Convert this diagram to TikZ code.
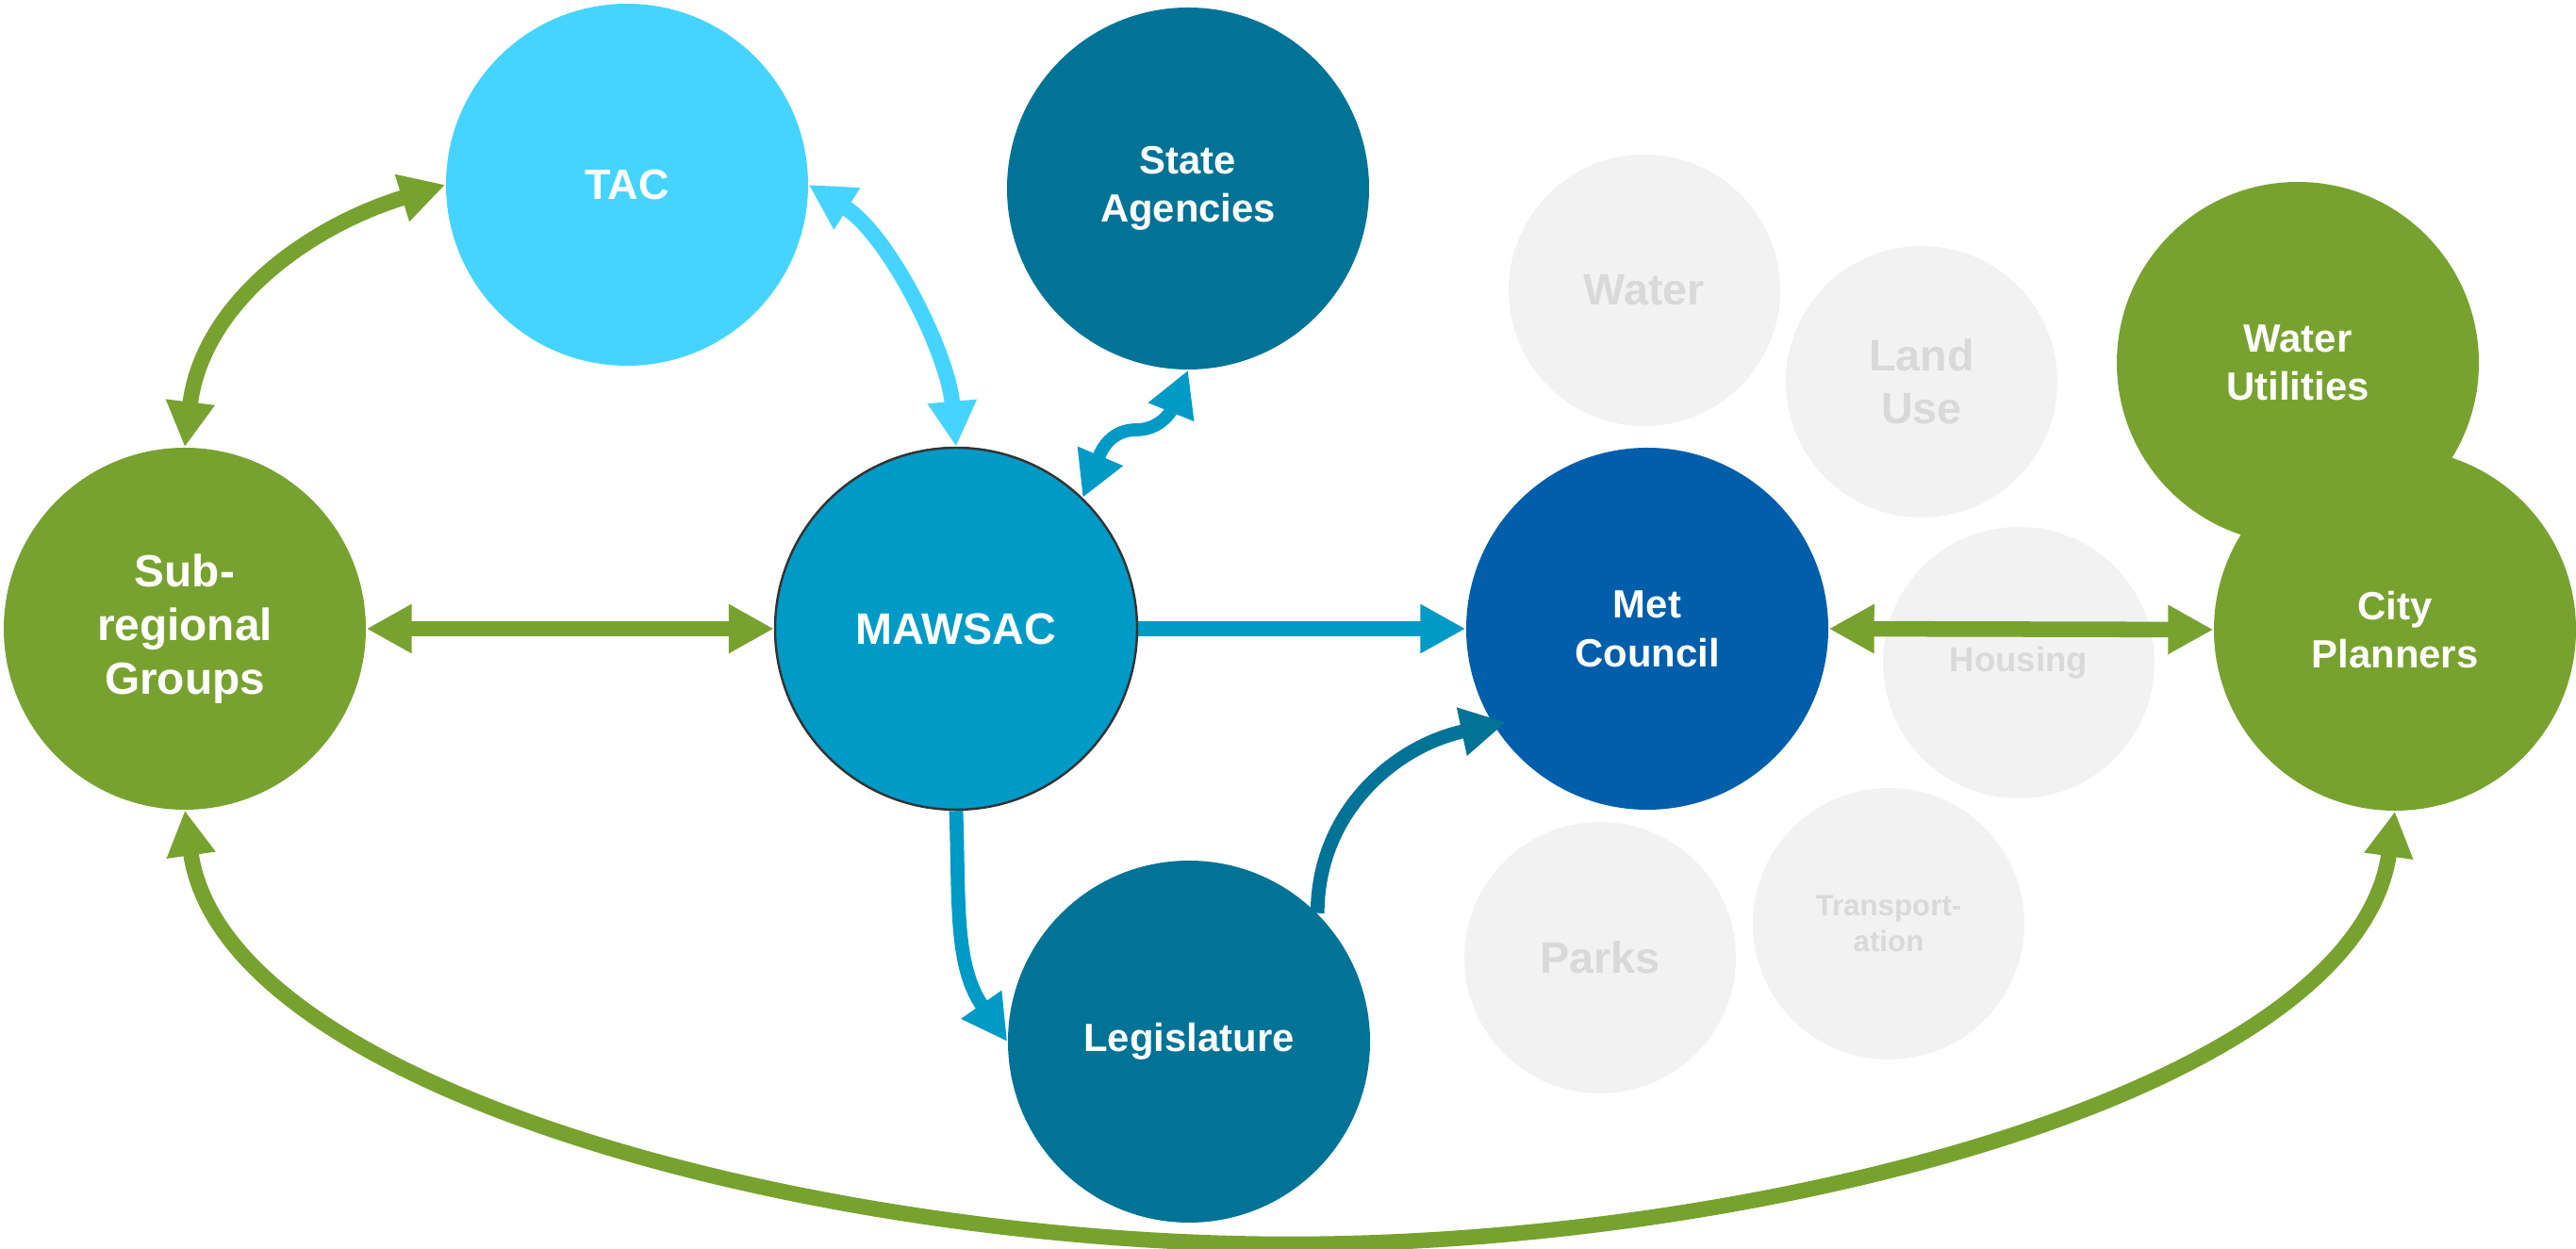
\documentclass[tikz,border=0pt]{standalone}
\usepackage{fontspec}
\setmainfont{Liberation Sans}
\usetikzlibrary{arrows.meta}

\definecolor{tacblue}{HTML}{45D4FF}
\definecolor{stateteal}{HTML}{007396}
\definecolor{mawsacblue}{HTML}{009AC7}
\definecolor{metblue}{HTML}{005EAA}
\definecolor{groupgreen}{HTML}{78A22F}
\definecolor{topicgray}{HTML}{F2F2F2}
\definecolor{topictext}{HTML}{D9D9D9}

\tikzset{
  body/.style={circle,minimum size=3.84cm,inner sep=0pt,align=center,text=white,
    font=\bfseries\fontsize{11.9}{14.7}\selectfont},
  topic/.style={circle,minimum size=2.88cm,inner sep=0pt,align=center,fill=topicgray,
    text=topictext,font=\bfseries\fontsize{13.3}{15.9}\selectfont},
  link/.style={line width=4.7pt,-{Triangle[length=4.8mm,width=4.9mm]}},
  twoway/.style={line width=4.7pt,{Triangle[length=4.8mm,width=4.9mm]}-{Triangle[length=4.8mm,width=4.9mm]}}
}

\begin{document}
\begin{tikzpicture}
    \useasboundingbox (0,0) rectangle (27.32,13.25);
    % topics of the Met Council
    \node[topic] (water) at (17.44,10.17) {Water};
    \node[topic] (landuse) at (20.38,9.20) {Land\\Use};
    \node[topic,font=\bfseries\fontsize{10.4}{12.5}\selectfont] (housing) at (21.41,6.22) {Housing};
    \node[topic,font=\bfseries\fontsize{8.9}{10.7}\selectfont] (transport) at (20.03,3.45) {Transport-\\ation};
    \node[topic] (parks) at (16.97,3.09) {Parks};
    % bodies
    \node[body,fill=tacblue,font=\bfseries\fontsize{12.8}{15}\selectfont] (tac) at (6.65,11.29) {TAC};
    \node[body,fill=stateteal] (state) at (12.60,11.25) {State\\Agencies};
    \node[body,fill=groupgreen,font=\bfseries\fontsize{13.6}{16.2}\selectfont] (sub) at (1.96,6.58) {Sub-\\regional\\Groups};
    \node[body,fill=mawsacblue,draw=black!80,line width=0.7pt,font=\bfseries\fontsize{13.3}{15}\selectfont] (mawsac) at (10.14,6.58) {MAWSAC};
    \node[body,fill=metblue] (met) at (17.47,6.58) {Met\\Council};
    \node[body,fill=stateteal] (leg) at (12.61,2.20) {Legislature};
    \node[body,fill=groupgreen] (utilities) at (24.37,9.40) {Water\\Utilities};
    \node[body,fill=groupgreen] (city) at (25.40,6.57) {City\\Planners};
    \coordinate (wave) at (12.05,8.69);
    \coordinate (low) at (13.68,0.05);

    \path[twoway,groupgreen]
    (sub.north) edge[out=83,in=197] (tac.west)
    (sub.east) edge (mawsac.west)
    (met.east) edge (city.west);
    \path[twoway,tacblue]
    (tac.east) edge[out=-32,in=95,looseness=0.8] (mawsac.north);
    \draw[twoway,line width=3.9pt,mawsacblue] (mawsac.46) to[out=67,in=180] (wave) to[out=0,in=248] (state.south);
    \path[link,mawsacblue]
    (mawsac.east) edge (met.west)
    (mawsac.south) edge[line width=4.2pt,out=-88,in=125] (leg.west);
    \path[link,line width=4.2pt,stateteal]
    (leg.45) edge[out=90,in=192,shorten >=-1.4mm] (met.212);
    \draw[twoway,groupgreen] (sub.south) .. controls +(-82:3) and +(-5,0) .. (low)
    .. controls +(5,0) and +(-98:3) .. (city.south);
\end{tikzpicture}
\end{document}
